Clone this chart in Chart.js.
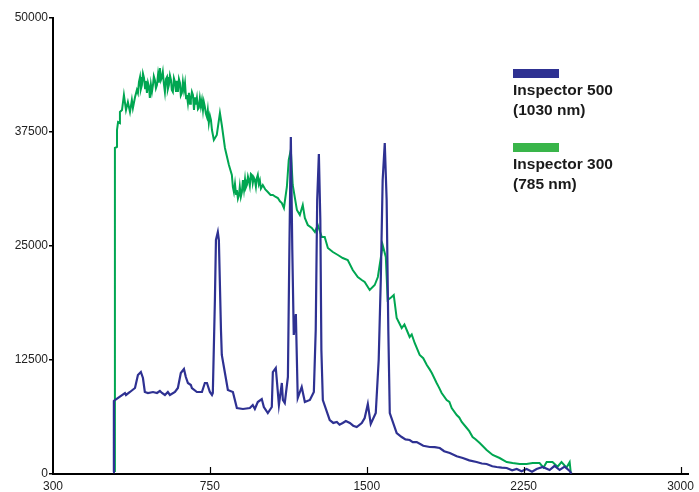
<!DOCTYPE html>
<html>
<head>
<meta charset="utf-8">
<script src="https://cdn.jsdelivr.net/npm/chart.js@4/dist/chart.umd.min.js"></script>
<style>
    html, body { margin: 0; padding: 0; background: #fff; }
    #wrap { width: 699px; height: 492px; }
</style>
</head>
<body>
<div id="wrap"><canvas id="spectrum"></canvas></div>
<script>
// Raman shift positions (axis units) and counts
const blueShift = [287, 291, 296, 344, 349, 368, 392, 406, 420, 430, 439, 454, 478, 497, 511, 521, 535, 549, 559, 583,
    597, 611, 626, 635, 645, 659, 664, 688, 712, 726, 736, 750, 760, 764, 774, 779, 788, 793, 803, 807,
    822, 836, 860, 879, 908, 941, 955, 965, 979, 998, 1008, 1027, 1046, 1051, 1065, 1070, 1080, 1094, 1099, 1108,
    1123, 1130, 1137, 1144, 1151, 1161, 1170, 1189, 1204, 1228, 1247, 1256, 1263, 1271, 1278, 1283, 1290, 1323, 1340, 1357, 1370, 1385,
    1400, 1419, 1435, 1452, 1476, 1490, 1505, 1519, 1543, 1557, 1567, 1576, 1586, 1595, 1603, 1610, 1643, 1667, 1685, 1705, 1720, 1739, 1770, 1801, 1825, 1849,
    1870, 1897, 1930, 1959, 1990, 2025, 2050, 2073, 2100, 2121, 2145, 2169, 2195, 2217, 2240, 2264, 2290, 2312, 2341, 2374, 2398, 2422, 2446, 2470, 2479];
const blueCounts = [200, 8005, 8114, 8882, 8662, 8991, 9430, 10855, 11184, 10526, 8991, 8882, 8991, 8882, 9101, 8882, 8662, 8991, 8662, 8991,
    9430, 11075, 11513, 10636, 9978, 9759, 9430, 8991, 8991, 9978, 9978, 8991, 8662, 8882, 19079, 25658, 26535, 25658, 15790, 13048,
    11075, 9211, 8991, 7237, 7127, 7237, 7566, 7127, 7895, 8224, 7347, 6689, 7347, 11184, 11623, 10307, 7566, 9978, 8114, 7785,
    10636, 24562, 36952, 24562, 15241, 17544, 8333, 9540, 7895, 8114, 8991, 15790, 30044, 35088, 27851, 13597, 8114, 5921, 5600, 5702, 5400, 5592,
    5800, 5592, 5300, 5154, 5592, 6140, 7676, 5483, 6689, 12500, 21272, 32237, 36294, 30044, 15790, 6689, 4496, 4057, 3800, 3728, 3500, 3509, 3100, 2961, 2950, 2851,
    2500, 2303, 1950, 1754, 1500, 1316, 1150, 1097, 850, 768, 700, 658, 400, 548, 300, 548, 250, 548, 768, 439, 900, 439, 800, 329, 50];

const greenShift = [296, 296, 306, 306, 311, 320, 320, 330, 339, 349, 358, 368, 377, 382, 392, 401, 406, 411, 416, 420,
    425, 430, 435, 440, 444, 449, 454, 459, 463, 468, 473, 478, 482, 487, 492, 497, 502, 506, 511, 516,
    521, 525, 530, 535, 540, 545, 549, 554, 559, 564, 568, 573, 578, 583, 588, 592, 597, 602, 607, 611,
    616, 621, 626, 631, 636, 640, 645, 650, 655, 659, 664, 669, 674, 679, 683, 688, 693, 697, 702, 707,
    712, 717, 721, 726, 731, 736, 740, 745, 750, 755, 760, 769, 783, 798, 807, 822, 841, 855, 860, 865,
    870, 875, 879, 884, 889, 893, 898, 903, 908, 913, 918, 922, 927, 932, 936, 941, 946, 951, 955, 960,
    965, 970, 974, 979, 984, 989, 994, 1003, 1015, 1027, 1040, 1051, 1063, 1075, 1085, 1094, 1104, 1118, 1127, 1137,
    1146, 1166, 1180, 1194, 1204, 1218, 1237, 1252, 1266, 1285, 1299, 1314, 1338, 1362, 1385, 1409, 1433, 1457, 1476, 1490,
    1514, 1538, 1553, 1567, 1576, 1591, 1600, 1619, 1629, 1643, 1667, 1680, 1691, 1705, 1715, 1729, 1753, 1770, 1787, 1800,
    1811, 1834, 1845, 1858, 1882, 1895, 1906, 1930, 1942, 1954, 1978, 1990, 2006, 2020, 2040, 2073, 2102, 2135, 2169, 2197,
    2231, 2264, 2293, 2326, 2345, 2360, 2388, 2412, 2431, 2455, 2470, 2475];
const greenCounts = [219, 35746, 35856, 37720, 38597, 38487, 39693, 39913, 41557, 39913, 40790, 39693, 41009, 40132, 41300, 42106, 41777, 43000, 43531, 42200,
    42654, 43900, 43421, 42300, 43100, 41777, 42900, 42435, 41228, 42700, 41900, 42654, 43600, 43202, 42300, 42654, 43750, 42900, 44518, 43200,
    43531, 44079, 42800, 41886, 43300, 43531, 42200, 42654, 43700, 43202, 42100, 41886, 43400, 42983, 41900, 43100, 41886, 43300, 42873, 41500,
    41777, 43000, 42100, 42873, 41200, 41557, 40680, 41800, 40600, 41009, 41900, 41557, 39913, 41300, 40500, 41228, 40000, 40132, 41200, 40300,
    41009, 39913, 40800, 40241, 39500, 39145, 39900, 38487, 39300, 38816, 37720, 36623, 37171, 39584, 38268, 35746, 33882, 32785, 31469, 30900,
    31800, 30700, 31140, 30200, 30592, 31500, 30400, 30921, 32237, 31200, 32300, 31400, 31689, 32600, 32237, 31600, 32900, 32785, 31900, 32500,
    32237, 31500, 32400, 32785, 31800, 32200, 31300, 31689, 31200, 30921, 30600, 30592, 30400, 30263, 29900, 29715, 29167, 31469, 34430, 35527,
    31689, 28948, 28400, 29496, 28071, 27303, 26974, 26535, 27303, 25987, 25987, 24781, 24342, 24013, 23684, 23465, 22369, 21601, 21272, 21053,
    20176, 20724, 21601, 23684, 25110, 23794, 19079, 19408, 19627, 17105, 16009, 16400, 15790, 15022, 15300, 14364, 13048, 12700, 11952, 11500,
    11075, 9978, 9500, 8882, 8114, 7900, 7237, 6469, 6200, 5702, 5044, 4700, 4057, 3800, 3399, 2632, 2083, 1754, 1316, 1206,
    1097, 1097, 1206, 1206, 700, 1306, 1316, 800, 1306, 700, 1306, 219];

const xTickValues = [0, 750, 1500, 2250, 3000];
const xTickLabels = ['300', '750', '1500', '2250', '3000'];
const yTickValues = [0, 12500, 25000, 37500, 50000];

const seriesNames = [['Inspector 500', '(1030 nm)'], ['Inspector 300', '(785 nm)']];
const lineColors = ['#2e3192', '#00a651'];
const keyColors = ['#2e3192', '#39b54a'];

function toPoints(xs, ys) {
    return xs.map((x, i) => ({ x: x, y: ys[i] }));
}

// small upward ticks on the x axis + legend block on the right
const extras = {
    id: 'extras',
    afterDraw(chart) {
        const ctx = chart.ctx;
        const xs = chart.scales.x;
        const bottom = chart.chartArea.bottom;
        ctx.save();
        ctx.strokeStyle = '#000';
        ctx.lineWidth = 1.2;
        xTickValues.slice(1).forEach(v => {
            const px = Math.round(xs.getPixelForValue(v)) + 0.5;
            ctx.beginPath();
            ctx.moveTo(px, bottom);
            ctx.lineTo(px, bottom - 7);
            ctx.stroke();
        });

        const tops = [69, 143];
        ctx.font = 'bold 15.5px "Liberation Sans", Arial, sans-serif';
        ctx.textBaseline = 'middle';
        tops.forEach((t, i) => {
            ctx.fillStyle = keyColors[i];
            ctx.fillRect(513, t, 46, 9);
            ctx.fillStyle = '#1a1a1a';
            ctx.fillText(seriesNames[i][0], 513, t + 22);
            ctx.fillText(seriesNames[i][1], 513, t + 42);
        });
        ctx.restore();
    }
};

new Chart(document.getElementById('spectrum').getContext('2d'), {
    type: 'line',
    data: {
        datasets: [
            {
                label: 'Inspector 500 (1030 nm)',
                data: toPoints(blueShift, blueCounts),
                borderColor: lineColors[0],
                borderWidth: 2.2,
                pointRadius: 0,
                tension: 0
            },
            {
                label: 'Inspector 300 (785 nm)',
                data: toPoints(greenShift, greenCounts),
                borderColor: lineColors[1],
                borderWidth: 2,
                pointRadius: 0,
                tension: 0
            }
        ]
    },
    options: {
        responsive: true,
        maintainAspectRatio: false,
        animation: false,
        layout: { padding: { top: 18, right: 9, left: 0, bottom: 0 } },
        plugins: {
            legend: { display: false },
            tooltip: { enabled: false }
        },
        scales: {
            x: {
                type: 'linear',
                min: 0,
                max: 3040,
                afterBuildTicks: axis => { axis.ticks = xTickValues.map(v => ({ value: v })); },
                afterFit: axis => { axis.height = 18; },
                grid: { display: false, drawTicks: false },
                border: { display: true, color: '#000', width: 2 },
                ticks: {
                    padding: 5,
                    maxRotation: 0,
                    autoSkip: false,
                    color: '#222',
                    font: { family: '"Liberation Sans", Arial, sans-serif', size: 12 },
                    callback: v => xTickLabels[xTickValues.indexOf(v)]
                }
            },
            y: {
                min: 0,
                max: 50000,
                afterBuildTicks: axis => { axis.ticks = yTickValues.map(v => ({ value: v })); },
                afterFit: axis => { axis.width = 53; },
                grid: { drawOnChartArea: false, drawTicks: true, tickLength: 4, color: '#000', lineWidth: 1.5 },
                border: { display: true, color: '#000', width: 2 },
                ticks: {
                    padding: 1,
                    color: '#222',
                    font: { family: '"Liberation Sans", Arial, sans-serif', size: 12 },
                    callback: v => String(v)
                }
            }
        }
    },
    plugins: [extras]
});
</script>
</body>
</html>
